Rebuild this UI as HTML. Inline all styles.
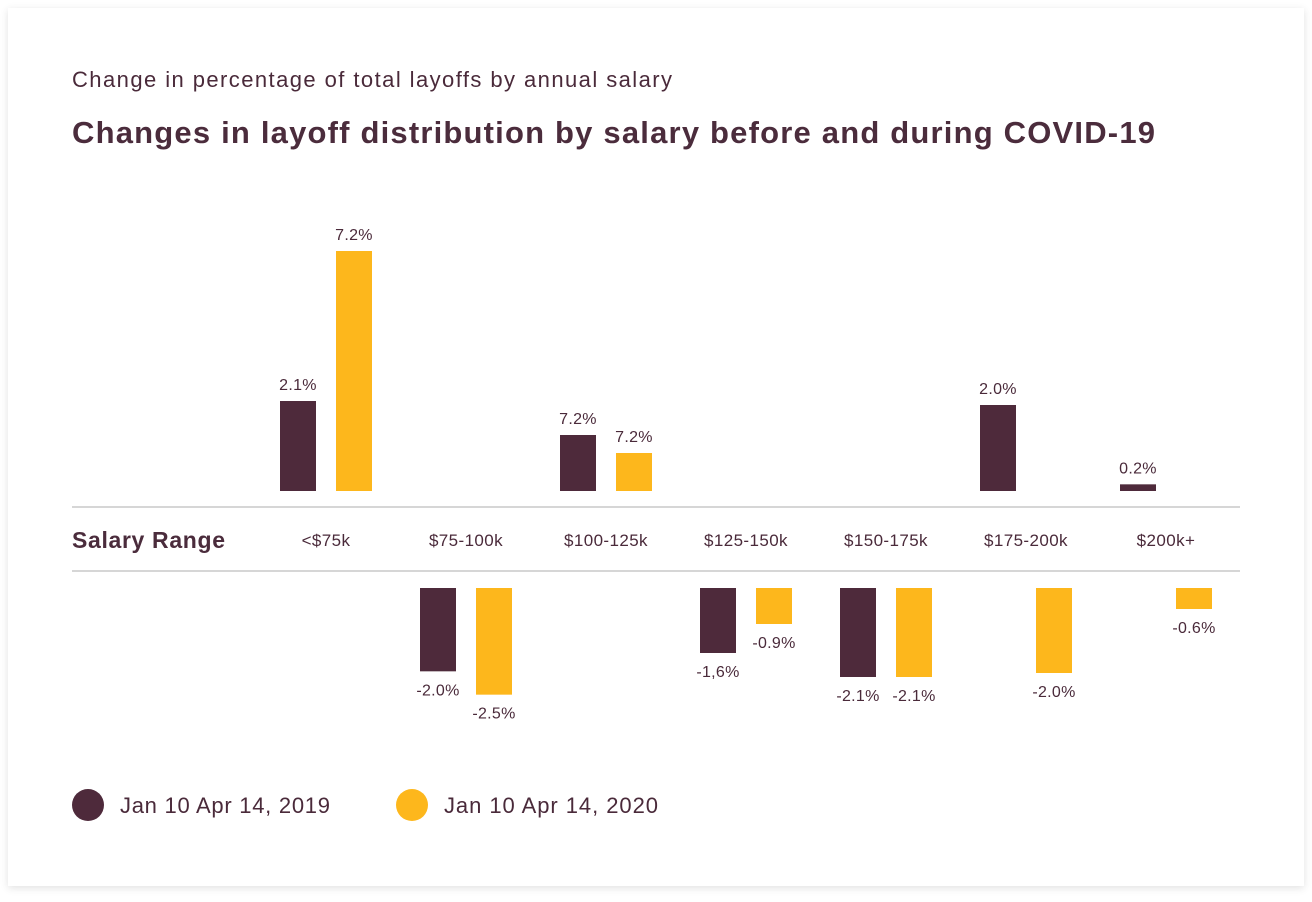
<!DOCTYPE html>
<html><head><meta charset="utf-8">
<style>
body{margin:0;width:1312px;height:902px;background:#fff;font-family:"Liberation Sans",sans-serif;overflow:hidden}
#card{position:absolute;left:8px;top:8px;width:1296px;height:878px;background:#fff;box-shadow:0 2px 8px rgba(0,0,0,0.12)}
svg{position:absolute;left:0;top:0}
</style></head><body>
<div id="card"></div>
<svg id="chart" width="1312" height="902">
<text x="72" y="87" font-size="22" fill="#4a2a3a" textLength="600" lengthAdjust="spacing">Change in percentage of total layoffs by annual salary</text>
<text x="72" y="143" font-size="31" font-weight="bold" fill="#4b2c3c" textLength="1083" lengthAdjust="spacing">Changes in layoff distribution by salary before and during COVID-19</text>
<line x1="72" x2="1240" y1="507" y2="507" stroke="#c8c8c8" stroke-width="1.5"/>
<line x1="72" x2="1240" y1="571" y2="571" stroke="#c8c8c8" stroke-width="1.5"/>
<text x="72" y="548" font-size="23" font-weight="bold" fill="#4b2c3c" textLength="153" lengthAdjust="spacing">Salary Range</text>
<circle cx="88" cy="805" r="16" fill="#4e2a3b"/>
<text x="120" y="813" font-size="22" fill="#4a2a3a" textLength="210" lengthAdjust="spacing">Jan 10 Apr 14, 2019</text>
<circle cx="412" cy="805" r="16" fill="#fdb71c"/>
<text x="444" y="813" font-size="22" fill="#4a2a3a" textLength="214" lengthAdjust="spacing">Jan 10 Apr 14, 2020</text>
</svg>
<script>
const categories = ["<$75k","$75-100k","$100-125k","$125-150k","$150-175k","$175-200k","$200k+"];
const values2019 = [2.7, -2.5, 1.68, -1.95, -2.67, 2.58, 0.2];
const values2020 = [7.2, -3.2, 1.14, -1.08, -2.67, -2.55, -0.63];
const labels2019 = ["2.1%","-2.0%","7.2%","-1,6%","-2.1%","2.0%","0.2%"];
const labels2020 = ["7.2%","-2.5%","7.2%","-0.9%","-2.1%","-2.0%","-0.6%"];

const svg = document.getElementById('chart');
const NS = 'http://www.w3.org/2000/svg';
const PX_PER_UNIT = 240 / 7.2;
const POS_BASE = 491, NEG_BASE = 588;
function xCenter(i){ return 326 + i * 140; }
function barLen(v){ return Math.abs(v) * PX_PER_UNIT; }
function mk(tag, attrs){ const e = document.createElementNS(NS, tag); for (const k in attrs) e.setAttribute(k, attrs[k]); svg.appendChild(e); return e; }

categories.forEach((c, i) => {
  const t = mk('text', {x: xCenter(i), y: 546, 'font-size': 17, fill: '#4a2a3a', 'text-anchor': 'middle', 'letter-spacing': '0.4'});
  t.textContent = c;
  
  
});

function drawSeries(vals, labs, offset, color, name){
  vals.forEach((v, i) => {
    if (v === 0) return;
    const h = barLen(v);
    const x = xCenter(i) + offset;
    const y = v > 0 ? POS_BASE - h : NEG_BASE;
    const r = mk('rect', {x: x, y: y, width: 36, height: h, fill: color});
    
    
    const ty = v > 0 ? y - 11 : y + h + 24;
    const t = mk('text', {x: x + 18, y: ty, 'font-size': 16, fill: '#4a2a3a', 'text-anchor': 'middle', 'letter-spacing': '0.3'});
    t.textContent = labs[i];
    
    
  });
}
drawSeries(values2019, labels2019, -46, '#4e2a3b', 'series-2019');
drawSeries(values2020, labels2020, 10, '#fdb71c', 'series-2020');
</script>
</body></html>
